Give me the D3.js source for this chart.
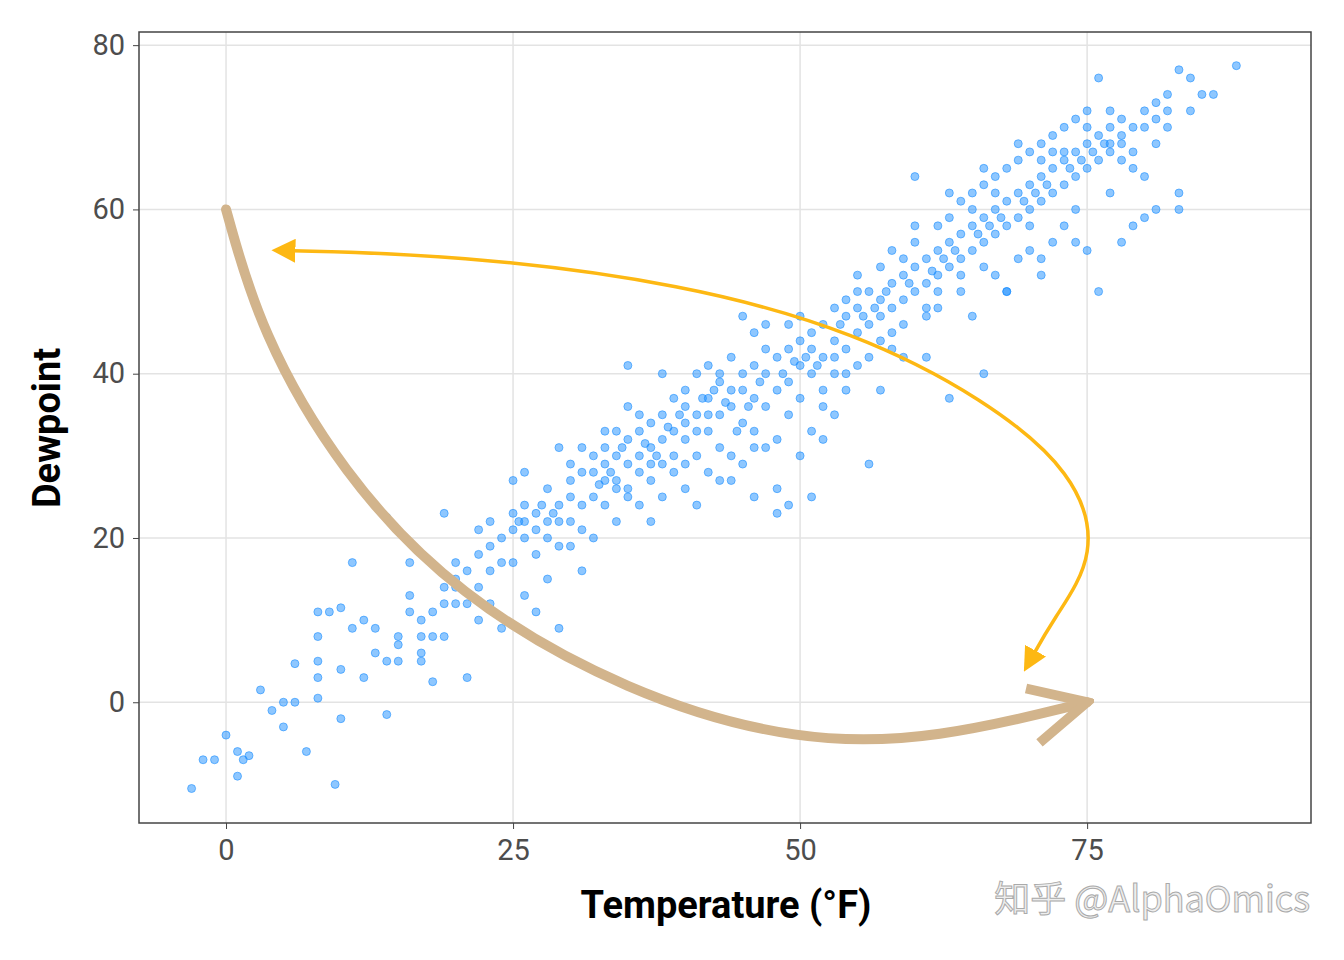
<!DOCTYPE html><html><head><meta charset="utf-8"><script src="https://cdn.jsdelivr.net/npm/d3@7"></script>
<style>body{margin:0;background:#fff}</style></head><body><svg id="c" width="1344" height="960"></svg><script>
const pts=[[-3,-10.5],[-2,-7],[-1,-7],[0,-4],[1,-6],[1,-9],[1.5,-7],[2,-6.5],[3,1.5],[4,-1],[5,0],[5,-3],[6,0],[6,4.7],[7,-6],[8,8],[8,5],[8,0.5],[8,3],[9,11],[8,11],[9.5,-10],[10,11.5],[10,4],[10,-2],[11,17],[11,9],[12,3],[12,10],[13,6],[13,9],[14,5],[14,-1.5],[14,22.5],[15,7],[15,8],[15,5],[16,11],[16,17],[16,13],[17,10],[17,8],[17,5],[17,6],[18,2.5],[18,8],[18,11],[19,12],[19,23],[19,14],[19,8],[20,15],[20,17],[20,12],[21,16],[21,3],[21,12],[22,10],[22,21],[22,14],[22,18],[23,19],[23,12],[23,22],[24,17],[24,20],[24,9],[25,23],[25,21],[25,27],[25,17],[26,28],[26,22],[26,24],[26,13],[27,23],[27,18],[27,21],[27,11],[28,22],[28,26],[28,20],[28,15],[29,24],[29,31],[29,19],[29,9],[30,25],[30,27],[30,22],[30,19],[31,28],[31,24],[31,16],[31,21],[32,28],[32,30],[32,25],[32,20],[33,31],[33,27],[33,24],[33,29],[34,30],[34,33],[34,22],[34,27],[35,32],[35,29],[35,26],[35,41],[35,36],[36,30],[36,33],[36,24],[36,28],[37,34],[37,31],[37,27],[37,22],[38,35],[38,29],[38,32],[38,25],[39,37],[39,33],[39,28],[39,30],[40,36],[40,38],[40,32],[40,26],[41,35],[41,40],[41,30],[41,24],[42,37],[42,33],[42,41],[42,28],[43,39],[43,35],[43,31],[43,27],[44,38],[44,36],[44,42],[44,30],[45,40],[45,34],[45,47],[45,29],[46,41],[46,37],[46,33],[46,45],[47,40],[47,43],[47,31],[47,36],[48,42],[48,38],[48,32],[48,26],[49,43],[49,39],[49,35],[49,24],[50,44],[50,41],[50,37],[50,30],[51,45],[51,40],[51,33],[51,25],[52,46],[52,42],[52,38],[52,32],[53,48],[53,44],[53,40],[53,35],[54,47],[54,43],[54,49],[54,38],[55,48],[55,45],[55,41],[55,52],[56,50],[56,46],[56,42],[56,29],[57,49],[57,47],[57,53],[57,38],[58,51],[58,48],[58,45],[58,55],[59,52],[59,49],[59,46],[59,42],[60,53],[60,50],[60,56],[60,64],[61,54],[61,51],[61,47],[61,42],[62,55],[62,52],[62,58],[62,48],[63,56],[63,53],[63,59],[63,37],[64,57],[64,54],[64,61],[64,50],[65,58],[65,55],[65,62],[65,47],[66,59],[66,56],[66,63],[66,40],[67,60],[67,57],[67,64],[67,52],[68,61],[68,58],[68,65],[68,50],[69,62],[69,59],[69,66],[69,54],[70,63],[70,60],[70,67],[70,55],[71,64],[71,61],[71,68],[71,52],[72,65],[72,62],[72,69],[72,56],[73,66],[73,63],[73,70],[73,58],[74,67],[74,64],[74,71],[74,60],[75,68],[75,65],[75,70],[75,55],[76,69],[76,66],[76,76],[76,50],[77,70],[77,67],[77,72],[77,62],[78,69],[78,66],[78,71],[78,56],[79,70],[79,67],[79,65],[80,70],[80,72],[80,64],[81,71],[81,73],[81,68],[82,72],[82,74],[82,70],[83,77],[83,60],[83,62],[84,76],[84,72],[85,74],[86,74],[88,77.5],[81,60],[80,59],[79,58],[74,56],[66,53],[61,48],[68,50],[71,54],[44,27],[46,25],[48,23],[30,29],[33,33],[36,35],[40,34],[43,40],[47,46],[50,47],[53,42],[57,44],[60,58],[63,62],[66,65],[69,68],[72,67],[75,72],[77,68],[70,58],[64,52],[58,43],[52,36],[46,31],[40,29],[35,25],[29,22],[26,20],[23,16],[20,14],[38,40],[42,35],[49,46],[55,50],[62,50],[67,62],[73,67],[78,68],[31,31],[34,26],[37,29],[41,33],[45,38],[51,43],[54,40],[59,54],[65,60],[71,66],[32.5,26.5],[34.5,31],[36.5,31.5],[38.5,33.5],[39.5,35],[41.5,37],[43.5,36.5],[44.5,33],[46.5,39],[48.5,40],[49.5,41.5],[51.5,41],[53.5,46],[55.5,47],[57.5,50],[59.5,51],[61.5,52.5],[63.5,55],[65.5,57],[67.5,59],[69.5,61],[71.5,63],[73.5,65],[75.5,67],[76.5,68],[74.5,66],[70.5,62],[66.5,58],[62.5,54],[56.5,48],[50.5,42],[45.5,36],[42.5,38],[37.5,30],[33.5,28],[28.5,23],[27.5,24],[25.5,22]];
const xTicks=[0,25,50,75], yTicks=[0,20,40,60,80];
const tanPath=[[0,60],[3,45],[10,28],[20,13],[35,1],[50,-5],[62,-4.5],[75,0]];
const goldPath=[[5,55],[20,54.5],[40,51],[55,45],[66,37],[74,28],[76,18],[72,10],[70,5]];
const svg=d3.select("#c");
const L=139,R=1311,T=32,B=823;
const x=d3.scaleLinear().domain([-7.58,94.5]).range([L,R]);
const y=d3.scaleLinear().domain([-14.7,81.6]).range([B,T]);
const font="'Liberation Sans Narrow','Roboto',sans-serif";
const g=svg.append("g");
xTicks.forEach(t=>g.append("line").attr("x1",x(t)).attr("x2",x(t)).attr("y1",T).attr("y2",B).attr("stroke","#e3e3e3").attr("stroke-width",1.5));
yTicks.forEach(t=>g.append("line").attr("y1",y(t)).attr("y2",y(t)).attr("x1",L).attr("x2",R).attr("stroke","#e3e3e3").attr("stroke-width",1.5));
svg.append("g").selectAll("circle").data(pts).join("circle").attr("cx",d=>x(d[0])).attr("cy",d=>y(d[1])).attr("r",4)
 .attr("fill","#1E90FF").attr("fill-opacity",0.5).attr("stroke","#1E90FF").attr("stroke-opacity",0.6).attr("stroke-width",1);
svg.append("rect").attr("x",L).attr("y",T).attr("width",R-L).attr("height",B-T).attr("fill","none").attr("stroke","#444").attr("stroke-width",1.5);
const xa=svg.append("g").attr("transform",`translate(0,${B})`).call(d3.axisBottom(x).tickValues(xTicks).tickSize(6).tickPadding(10));
const ya=svg.append("g").attr("transform",`translate(${L},0)`).call(d3.axisLeft(y).tickValues(yTicks).tickSize(6).tickPadding(8));
[xa,ya].forEach(a=>{a.select(".domain").remove();a.selectAll("line").attr("stroke","#444");a.selectAll("text").attr("font-family",font).attr("font-size",29).attr("fill","#4d4d4d");});
svg.append("text").attr("x",726).attr("y",918).attr("text-anchor","middle").attr("font-family",font).attr("font-weight","bold").attr("font-size",38).text("Temperature (°F)");
svg.append("text").attr("transform","translate(60,428) rotate(-90)").attr("text-anchor","middle").attr("font-family",font).attr("font-weight","bold").attr("font-size",38).text("Dewpoint");
const defs=svg.append("defs");
defs.append("marker").attr("id","gA").attr("viewBox","0 0 10 10").attr("refX",5).attr("refY",5).attr("markerWidth",24).attr("markerHeight",24).attr("markerUnits","userSpaceOnUse").attr("orient","auto-start-reverse")
 .append("path").attr("d","M0,0L10,5L0,10Z").attr("fill","#FDB813");
const line=d3.line().x(d=>x(d[0])).y(d=>y(d[1])).curve(d3.curveBasis);
svg.append("path").attr("d",line(goldPath)).attr("fill","none").attr("stroke","#FDB813").attr("stroke-width",3.5).attr("marker-end","url(#gA)").attr("marker-start","url(#gA)");
defs.append("marker").attr("id","tA").attr("viewBox","0 0 20 20").attr("refX",18).attr("refY",10).attr("markerWidth",70).attr("markerHeight",70).attr("markerUnits","userSpaceOnUse").attr("orient","auto")
 .append("path").attr("d","M2,2L18,10L2,18").attr("fill","none").attr("stroke","#D2B48C").attr("stroke-width",2.8);
svg.append("path").attr("d",line(tanPath)).attr("fill","none").attr("stroke","#D2B48C").attr("stroke-width",10).attr("stroke-linecap","round").attr("marker-end","url(#tA)");
svg.append("text").attr("x",1310).attr("y",912).attr("text-anchor","end").attr("font-family","'Noto Sans CJK SC',sans-serif").attr("font-size",36)
 .attr("fill","#eeeeee").attr("stroke","#aaaaaa").attr("stroke-width",1).text("知乎 @AlphaOmics");
</script></body></html>
